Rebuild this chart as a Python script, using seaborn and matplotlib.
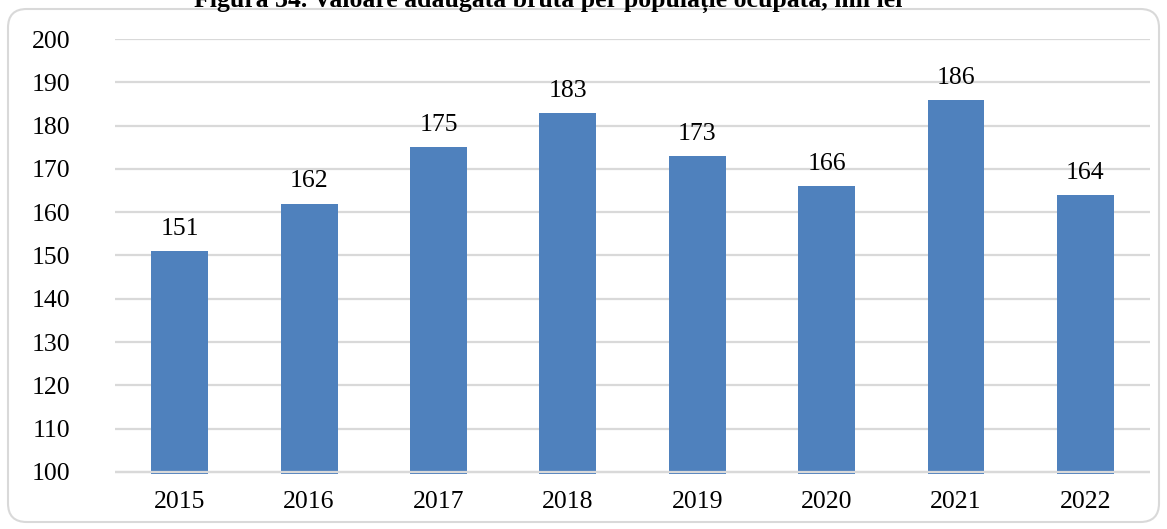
import matplotlib
matplotlib.use("Agg")
import matplotlib.pyplot as plt
from matplotlib.patches import FancyBboxPatch
import seaborn as sns
import pandas as pd

years = ["2015", "2016", "2017", "2018", "2019", "2020", "2021", "2022"]
values = [151, 162, 175, 183, 173, 166, 186, 164]
y_ticks = [100, 110, 120, 130, 140, 150, 160, 170, 180, 190, 200]
title = "Figura 34. Valoare adăugată brută per populație ocupată, mii lei"

df = pd.DataFrame({"an": years, "valoare": values})

sns.set_theme(style="white")
plt.rcParams["font.family"] = ["Liberation Serif", "DejaVu Serif"]

fig = plt.figure(figsize=(11.67, 5.29), dpi=100)
ax = fig.add_axes([0.0985, 0.104, 0.887, 0.822])

sns.barplot(data=df, x="an", y="valoare", color="#4F81BD", saturation=1,
            width=0.44, ax=ax, zorder=2, edgecolor="#4F81BD", linewidth=0)

ax.set_ylim(99.5, 200)
ax.set_xlim(-0.5, len(years) - 0.5)
ax.set_yticks(y_ticks)
ax.yaxis.grid(True, color="#D9D9D9", linewidth=1.6, zorder=0)
ax.set_axisbelow(True)
ax.axhline(100, color="#D9D9D9", linewidth=1.6, zorder=3)

for s in ax.spines.values():
    s.set_visible(False)
ax.tick_params(axis="y", length=0, pad=32, labelsize=18.5, labelcolor="black")
ax.tick_params(axis="x", length=0, pad=12, labelsize=18.5, labelcolor="black")
for lbl in ax.get_yticklabels():
    lbl.set_horizontalalignment("right")
ax.set_xlabel("")
ax.set_ylabel("")

for container in ax.containers:
    ax.bar_label(container, labels=[str(v) for v in values], padding=8,
                 fontsize=18.5, color="black")

# Outer rounded frame of the chart
frame = FancyBboxPatch((8 / 1167, 7 / 529), 1151 / 1167, 513 / 529,
                       boxstyle="round,pad=0,rounding_size=0.016",
                       transform=fig.transFigure, facecolor="none",
                       edgecolor="#D9D9D9", linewidth=1.5, zorder=0,
                       mutation_aspect=1167 / 529)
fig.patches.append(frame)

fig.text(0.47, 0.987, title, ha="center", va="baseline", fontsize=18.5,
         fontweight="bold", color="black")

fig.savefig("out.png", dpi=100)
